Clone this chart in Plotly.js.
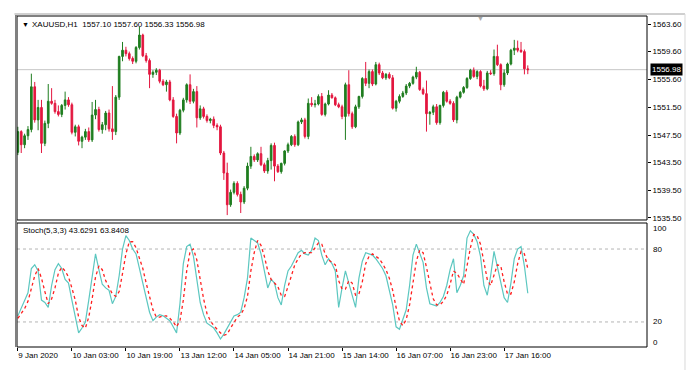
<!DOCTYPE html>
<html><head><meta charset="utf-8">
<script src="https://cdn.plot.ly/plotly-3.0.1.min.js"></script>
<style>html,body{margin:0;padding:0;background:#fff;} #chart{width:700px;height:370px;}</style>
</head><body><div id="chart"></div>
<script>
const symbol = "XAUUSD,H1";
const openP = [
1545.0,1548.0,1546.1,1547.4,1548.3,1554.5,1549.7,1551.5,1546.3,1549.2,
1552.4,1552.1,1550.9,1550.5,1551.8,1552.6,1551.9,1547.9,1548.7,1546.6,
1547.2,1548.0,1546.8,1550.4,1551.2,1548.3,1549.0,1550.7,1548.4,1548.0,
1553.0,1558.9,1559.8,1559.3,1558.6,1558.2,1560.2,1562.0,1559.0,1558.3,
1556.3,1556.6,1556.9,1555.3,1554.8,1555.2,1552.6,1550.2,1547.8,1551.1,
1552.6,1554.8,1552.4,1553.8,1550.0,1551.3,1550.2,1549.6,1549.8,1548.9,
1548.7,1544.9,1542.0,1537.4,1539.2,1540.5,1538.9,1537.8,1539.8,1543.0,
1544.4,1543.9,1544.8,1543.2,1542.3,1543.8,1546.0,1543.0,1542.2,1543.4,
1545.2,1546.1,1547.3,1546.1,1549.4,1549.7,1547.3,1552.1,1551.9,1552.0,
1553.1,1550.5,1552.0,1553.3,1552.9,1551.9,1551.6,1550.2,1554.8,1550.6,
1548.7,1551.6,1553.1,1555.7,1555.0,1556.7,1554.9,1557.7,1556.5,1555.8,
1556.3,1555.8,1551.4,1552.4,1553.1,1553.6,1554.6,1555.0,1555.9,1556.6,
1554.1,1553.5,1550.6,1550.8,1551.6,1549.3,1551.8,1553.7,1552.4,1552.1,
1549.7,1553.0,1553.7,1554.4,1555.7,1556.9,1556.0,1556.7,1554.6,1554.2,
1556.5,1556.4,1558.9,1557.7,1554.8,1556.5,1557.8,1559.8,1560.1,1559.8,
1559.6,1557.10];
const highP = [
1548.7,1548.2,1547.7,1548.8,1556.4,1555.2,1552.6,1552.6,1549.6,1554.9,
1554.3,1552.6,1551.8,1552.0,1553.8,1553.0,1552.2,1549.0,1549.0,1547.4,
1548.4,1548.6,1552.3,1552.6,1551.6,1549.4,1551.0,1551.2,1554.6,1553.3,
1559.0,1561.0,1560.3,1559.6,1558.9,1560.4,1563.2,1562.2,1559.4,1558.6,
1556.9,1557.2,1557.1,1555.6,1555.5,1555.5,1553.0,1550.6,1551.3,1552.9,
1555.0,1556.3,1554.2,1554.6,1551.8,1551.6,1550.5,1550.0,1550.2,1549.2,
1549.0,1545.2,1543.5,1539.6,1540.8,1540.8,1539.3,1540.1,1543.5,1545.8,
1544.7,1545.0,1545.8,1543.5,1544.2,1546.3,1546.4,1543.3,1543.5,1545.3,
1546.4,1547.5,1547.6,1549.6,1550.0,1550.0,1552.8,1553.0,1552.6,1553.4,
1553.6,1552.2,1554.0,1553.6,1553.1,1552.2,1551.9,1555.1,1556.9,1550.9,
1551.9,1553.2,1555.9,1558.1,1557.0,1557.0,1558.1,1558.0,1556.8,1556.5,
1556.6,1556.2,1552.6,1553.4,1553.9,1554.9,1555.2,1556.1,1557.4,1556.8,
1554.4,1555.4,1551.0,1551.9,1552.0,1551.9,1553.9,1554.0,1552.7,1552.4,
1553.2,1553.9,1554.6,1555.9,1557.1,1557.3,1556.9,1556.9,1555.5,1556.8,
1556.9,1559.9,1560.6,1557.9,1557.0,1558.0,1560.0,1561.3,1561.2,1561.0,
1559.9,1557.60];
const lowP = [
1544.6,1544.9,1545.6,1546.8,1547.9,1549.3,1548.2,1544.9,1545.9,1548.5,
1551.9,1550.6,1550.2,1550.1,1551.2,1551.6,1547.6,1547.3,1546.0,1545.6,
1546.8,1546.5,1546.5,1549.8,1548.0,1547.7,1548.2,1548.0,1546.8,1547.5,
1552.6,1558.2,1558.9,1558.3,1557.8,1557.9,1559.9,1558.8,1558.0,1554.3,
1555.8,1556.2,1555.0,1554.6,1553.8,1552.4,1550.0,1546.3,1547.5,1550.8,
1552.2,1552.0,1552.1,1548.6,1549.7,1549.9,1549.3,1549.2,1548.5,1548.2,
1544.6,1541.0,1535.9,1537.1,1538.9,1538.6,1536.2,1537.5,1539.5,1542.6,
1543.6,1543.6,1543.0,1542.0,1541.9,1542.5,1540.8,1542.0,1541.9,1543.1,
1544.9,1545.9,1545.8,1545.9,1549.1,1547.0,1546.9,1551.6,1551.5,1551.8,
1550.3,1550.2,1551.8,1552.8,1551.7,1551.4,1549.8,1546.8,1550.2,1548.4,
1548.5,1551.3,1552.8,1554.6,1554.3,1554.6,1554.7,1556.2,1555.6,1555.5,
1555.6,1551.2,1550.9,1552.1,1552.9,1553.3,1554.3,1554.8,1555.6,1553.9,
1553.3,1548.0,1549.0,1550.4,1549.0,1549.0,1551.5,1552.2,1551.9,1549.4,
1549.2,1552.8,1553.5,1554.2,1555.5,1555.8,1555.6,1554.4,1553.9,1554.0,
1556.2,1556.1,1557.5,1554.0,1554.5,1556.2,1557.6,1559.1,1559.5,1559.4,
1556.3,1556.33];
const closeP = [
1548.0,1546.1,1547.4,1548.3,1554.5,1549.7,1551.5,1546.3,1549.2,1552.4,
1552.1,1550.9,1550.5,1551.8,1552.6,1551.9,1547.9,1548.7,1546.6,1547.2,
1548.0,1546.8,1550.4,1551.2,1548.3,1549.0,1550.7,1548.4,1548.0,1553.0,
1558.9,1559.8,1559.3,1558.6,1558.2,1560.2,1562.0,1559.0,1558.3,1556.3,
1556.6,1556.9,1555.3,1554.8,1555.2,1552.6,1550.2,1547.8,1551.1,1552.6,
1554.8,1552.4,1553.8,1550.0,1551.3,1550.2,1549.6,1549.8,1548.9,1548.7,
1544.9,1542.0,1537.4,1539.2,1540.5,1538.9,1537.8,1539.8,1543.0,1544.4,
1543.9,1544.8,1543.2,1542.3,1543.8,1546.0,1543.0,1542.2,1543.4,1545.2,
1546.1,1547.3,1546.1,1549.4,1549.7,1547.3,1552.1,1551.9,1552.0,1553.1,
1550.5,1552.0,1553.3,1552.9,1551.9,1551.6,1550.2,1554.8,1550.6,1548.7,
1551.6,1553.1,1555.7,1555.0,1556.7,1554.9,1557.7,1556.5,1555.8,1556.3,
1555.8,1551.4,1552.4,1553.1,1553.6,1554.6,1555.0,1555.9,1556.6,1554.1,
1553.5,1550.6,1550.8,1551.6,1549.3,1551.8,1553.7,1552.4,1552.1,1549.7,
1553.0,1553.7,1554.4,1555.7,1556.9,1556.0,1556.7,1554.6,1554.2,1556.5,
1556.4,1558.9,1557.7,1554.8,1556.5,1557.8,1559.8,1560.1,1559.8,1559.6,
1557.1,1556.98];
const stochK = [
25,31,37,44,64,67,62,38,36,32,
50,63,68,64,55,52,38,24,11,15,
20,38,58,76,63,51,48,46,35,41,
58,80,91,87,80,76,64,52,40,28,
21,24,26,25,23,21,16,11,35,68,
82,84,74,55,36,26,19,17,15,11,
6,10,15,20,25,26,28,40,56,89,
87,85,76,62,48,55,52,40,34,50,
62,66,72,77,79,76,75,79,89,87,
75,67,72,68,62,32,48,62,52,42,
32,56,70,77,76,75,72,68,64,58,
46,34,16,14,22,30,50,75,84,77,
69,48,35,34,33,36,41,50,63,72,
44,50,58,89,95,92,86,74,50,42,
58,78,65,54,40,36,52,72,80,82,
66,43.6291];
const stochD = [
23,27,31,37,48,58,64,56,45,35,
39,48,60,65,62,57,48,38,24,17,
15,24,39,57,66,63,54,48,43,41,
45,60,76,86,86,81,73,64,52,40,
30,24,24,25,25,23,20,16,21,38,
62,78,80,71,55,39,27,21,17,14,
11,9,10,15,20,24,26,31,41,62,
77,87,83,74,62,55,52,49,42,41,
49,59,67,72,76,77,77,77,81,85,
84,76,71,69,67,54,47,47,54,52,
42,43,53,68,74,76,74,72,68,63,
56,46,32,21,17,22,34,52,70,79,
77,65,51,39,34,34,37,42,51,62,
60,55,51,66,81,92,91,84,70,55,
50,59,67,66,53,43,43,53,68,78,
76,63.8408];
const stochLevels = [80, 20];
const stochLabels = [100, 80, 20, 0];
const priceTicks = [1563.60, 1559.60, 1555.60, 1551.50, 1547.50, 1543.50, 1539.50, 1535.50];
const timeTickIdx = [0, 16, 32, 48, 64, 80, 96, 112, 128, 144];
const timeTickText = ["9 Jan 2020","10 Jan 03:00","10 Jan 19:00","13 Jan 12:00","14 Jan 05:00","14 Jan 21:00","15 Jan 14:00","16 Jan 07:00","16 Jan 23:00","17 Jan 16:00"];

const n = closeP.length;
const idx = closeP.map((_, i) => i);
const last = n - 1;
const FONT = 'Liberation Sans, Arial, sans-serif';
const UP = '#1f7d1f', DN = '#e3173f';

const traces = [
  {type:'candlestick', x: idx, open: openP, high: highP, low: lowP, close: closeP,
   xaxis:'x', yaxis:'y', whiskerwidth:0, hoverinfo:'skip', showlegend:false,
   increasing:{line:{color:UP, width:1}, fillcolor:UP},
   decreasing:{line:{color:DN, width:1}, fillcolor:DN}},
  {type:'scatter', mode:'lines', x: idx, y: stochK, xaxis:'x', yaxis:'y2',
   line:{color:'#5cc7c0', width:1.2}, hoverinfo:'skip', showlegend:false},
  {type:'scatter', mode:'lines', x: idx, y: stochD, xaxis:'x', yaxis:'y2',
   line:{color:'#ff1f1f', width:1.3, dash:'dot'}, hoverinfo:'skip', showlegend:false}
];

const mainDom = [0.3837, 1], stochDom = [0, 0.3746];
const shapes = [];
shapes.push({type:'line', xref:'paper', yref:'y', x0:0, x1:1, y0:closeP[last], y1:closeP[last], line:{color:'#c6c6c6', width:1}, layer:'below'});
stochLevels.forEach(v => shapes.push({type:'line', xref:'paper', yref:'y2', x0:0, x1:1, y0:v, y1:v, line:{color:'#b4b4b4', width:1, dash:'3px,3px'}, layer:'below'}));
shapes.push({type:'rect', xref:'paper', yref:'paper', x0:0, x1:1, y0:mainDom[0], y1:mainDom[1], line:{color:'#000', width:1}});
shapes.push({type:'rect', xref:'paper', yref:'paper', x0:0, x1:1, y0:stochDom[0], y1:stochDom[1], line:{color:'#000', width:1}});
shapes.push({type:'line', xref:'paper', yref:'paper', x0:-0.0016, x1:-0.0016, y0:0, y1:1.003, line:{color:'#808080', width:2}});
shapes.push({type:'line', xref:'paper', yref:'paper', x0:-0.004, x1:1.0603, y0:1.006, y1:1.006, line:{color:'#a0a0a0', width:1}});
shapes.push({type:'line', xref:'paper', yref:'paper', x0:1.0603, x1:1.0603, y0:1.006, y1:-0.07, line:{color:'#d8d8d8', width:1}});

const annotations = [];
annotations.push({xref:'paper', yref:'paper', x:0.004, y:0.9758, xanchor:'left', yanchor:'middle', showarrow:false,
  text:'▼', font:{family:FONT, size:7, color:'#000'}});
annotations.push({xref:'paper', yref:'paper', x:0.0205, y:0.9758, xanchor:'left', yanchor:'middle', showarrow:false,
  text: symbol + '  ' + [openP[last], highP[last], lowP[last], closeP[last]].map(v => v.toFixed(2)).join(' '),
  font:{family:FONT, size:8, color:'#000'}});
annotations.push({xref:'paper', yref:'paper', x:0.0063, y:0.3505, xanchor:'left', yanchor:'middle', showarrow:false,
  text:'Stoch(5,3,3) ' + stochK[last].toFixed(4) + ' ' + stochD[last].toFixed(4),
  font:{family:FONT, size:8, color:'#000'}});
annotations.push({xref:'paper', yref:'y', x:1.0045, y:closeP[last], xanchor:'left', yanchor:'middle', showarrow:false,
  text: closeP[last].toFixed(2), bgcolor:'#000', borderpad:1, font:{family:FONT, size:8, color:'#fff'}});
annotations.push({xref:'paper', yref:'paper', x:0.7365, y:0.993, xanchor:'center', yanchor:'middle', showarrow:false,
  text:'▼', font:{family:FONT, size:7, color:'#a8a8a8'}});
stochLabels.forEach(v => annotations.push({xref:'paper', yref:'y2', x:1.006, y:v, xanchor:'left', yanchor:'middle', showarrow:false,
  text:String(v), yshift: v === 100 ? -4 : (v === 0 ? 4 : 0), font:{family:FONT, size:8, color:'#000'}}));

const layout = {
  width:700, height:370, margin:{l:17, r:53, t:16, b:23, pad:0},
  paper_bgcolor:'#fff', plot_bgcolor:'#fff', showlegend:false,
  font:{family:FONT, size:8, color:'#000'},
  xaxis:{range:[-0.25, 186.3], anchor:'y2', showgrid:false, zeroline:false, showline:false,
    tickmode:'array', tickvals:timeTickIdx, ticktext:timeTickText, ticks:'outside', ticklen:3,
    tickangle:0, tickcolor:'#000', ticklabelposition:'outside right', tickfont:{family:FONT, size:8, color:'#000'},
    rangeslider:{visible:false}, fixedrange:true},
  yaxis:{domain:mainDom, range:[1535.19, 1564.76], side:'right', anchor:'x', showgrid:false, zeroline:false,
    showline:false, tickmode:'array', tickvals:priceTicks, ticktext:priceTicks.map(v => v.toFixed(2)),
    ticks:'outside', ticklen:3, tickcolor:'#000', tickfont:{family:FONT, size:8, color:'#000'}},
  yaxis2:{domain:stochDom, range:[-0.6, 101.4], side:'right', anchor:'x', showgrid:false, zeroline:false,
    showline:false, showticklabels:false, ticks:''},
  shapes: shapes, annotations: annotations
};

Plotly.newPlot('chart', traces, layout, {staticPlot:true, displayModeBar:false});
</script>
</body></html>
